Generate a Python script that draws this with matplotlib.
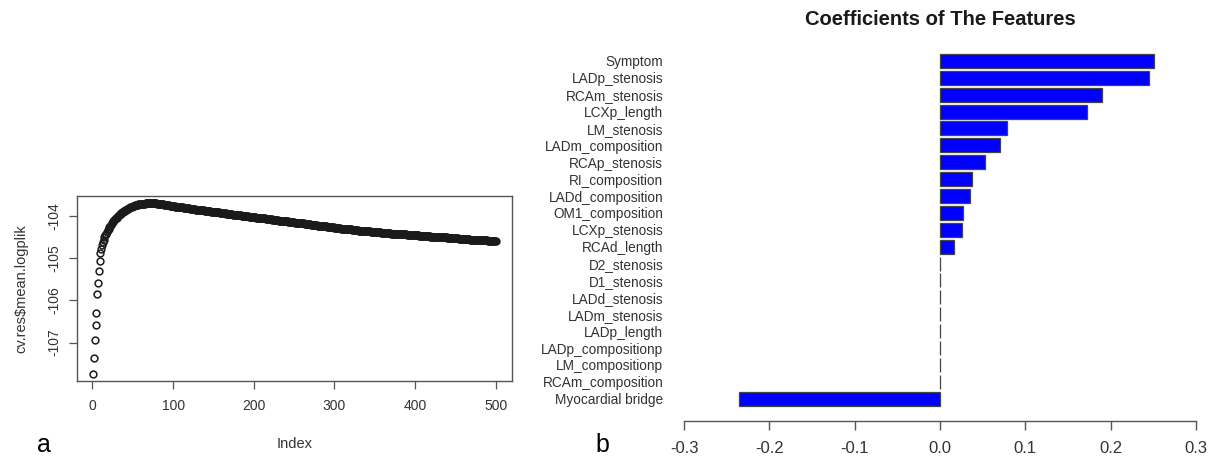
import numpy as np
import matplotlib
matplotlib.use("Agg")
import matplotlib.pyplot as plt

plt.rcParams["font.family"] = ["Liberation Sans", "DejaVu Sans"]

# panel a: cross-validated mean partial log-likelihood
LOGPLIK = np.array("""
-107.75 -107.36 -106.95 -106.59 -106.30 -105.85 -105.59 -105.31 -105.08 -104.88
-104.78 -104.70 -104.63 -104.57 -104.51 -104.46 -104.42 -104.38 -104.34 -104.30
-104.27 -104.24 -104.21 -104.18 -104.15 -104.13 -104.10 -104.08 -104.06 -104.04
-104.02 -104.00 -103.98 -103.96 -103.95 -103.93 -103.92 -103.90 -103.89 -103.88
-103.86 -103.85 -103.84 -103.83 -103.82 -103.81 -103.80 -103.79 -103.78 -103.77
-103.77 -103.76 -103.75 -103.75 -103.74 -103.74 -103.73 -103.73 -103.72 -103.72
-103.72 -103.71 -103.71 -103.71 -103.71 -103.70 -103.70 -103.70 -103.70 -103.70
-103.70 -103.69 -103.69 -103.69 -103.69 -103.70 -103.70 -103.70 -103.70 -103.71
-103.71 -103.71 -103.72 -103.72 -103.72 -103.73 -103.73 -103.73 -103.74 -103.74
-103.74 -103.75 -103.75 -103.75 -103.75 -103.76 -103.76 -103.76 -103.77 -103.77
-103.77 -103.77 -103.78 -103.78 -103.78 -103.78 -103.79 -103.79 -103.79 -103.80
-103.80 -103.80 -103.81 -103.81 -103.81 -103.81 -103.82 -103.82 -103.82 -103.82
-103.83 -103.83 -103.83 -103.83 -103.84 -103.84 -103.84 -103.85 -103.85 -103.85
-103.85 -103.86 -103.86 -103.86 -103.86 -103.87 -103.87 -103.87 -103.88 -103.88
-103.88 -103.88 -103.89 -103.89 -103.89 -103.89 -103.90 -103.90 -103.90 -103.90
-103.91 -103.91 -103.91 -103.91 -103.92 -103.92 -103.92 -103.93 -103.93 -103.93
-103.93 -103.94 -103.94 -103.94 -103.94 -103.95 -103.95 -103.95 -103.95 -103.96
-103.96 -103.96 -103.96 -103.97 -103.97 -103.97 -103.98 -103.98 -103.98 -103.98
-103.99 -103.99 -103.99 -103.99 -104.00 -104.00 -104.00 -104.00 -104.01 -104.01
-104.01 -104.01 -104.01 -104.02 -104.02 -104.02 -104.02 -104.02 -104.03 -104.03
-104.03 -104.03 -104.04 -104.04 -104.04 -104.04 -104.05 -104.05 -104.05 -104.05
-104.06 -104.06 -104.06 -104.06 -104.07 -104.07 -104.07 -104.07 -104.08 -104.08
-104.08 -104.08 -104.09 -104.09 -104.09 -104.09 -104.10 -104.10 -104.10 -104.10
-104.11 -104.11 -104.11 -104.11 -104.12 -104.12 -104.12 -104.12 -104.13 -104.13
-104.13 -104.13 -104.14 -104.14 -104.14 -104.14 -104.15 -104.15 -104.15 -104.15
-104.16 -104.16 -104.16 -104.16 -104.17 -104.17 -104.17 -104.17 -104.18 -104.18
-104.18 -104.18 -104.19 -104.19 -104.19 -104.19 -104.20 -104.20 -104.20 -104.20
-104.21 -104.21 -104.21 -104.21 -104.22 -104.22 -104.22 -104.22 -104.23 -104.23
-104.23 -104.23 -104.24 -104.24 -104.24 -104.24 -104.25 -104.25 -104.25 -104.25
-104.26 -104.26 -104.26 -104.26 -104.26 -104.27 -104.27 -104.27 -104.27 -104.28
-104.28 -104.28 -104.28 -104.29 -104.29 -104.29 -104.29 -104.30 -104.30 -104.30
-104.30 -104.30 -104.31 -104.31 -104.31 -104.31 -104.32 -104.32 -104.32 -104.32
-104.32 -104.33 -104.33 -104.33 -104.33 -104.34 -104.34 -104.34 -104.34 -104.35
-104.35 -104.35 -104.35 -104.35 -104.36 -104.36 -104.36 -104.36 -104.36 -104.37
-104.37 -104.37 -104.37 -104.37 -104.38 -104.38 -104.38 -104.38 -104.38 -104.38
-104.38 -104.39 -104.39 -104.39 -104.39 -104.39 -104.39 -104.40 -104.40 -104.40
-104.40 -104.40 -104.40 -104.41 -104.41 -104.41 -104.41 -104.41 -104.41 -104.42
-104.42 -104.42 -104.42 -104.42 -104.42 -104.43 -104.43 -104.43 -104.43 -104.43
-104.43 -104.43 -104.44 -104.44 -104.44 -104.44 -104.44 -104.44 -104.44 -104.45
-104.45 -104.45 -104.45 -104.45 -104.45 -104.45 -104.45 -104.46 -104.46 -104.46
-104.46 -104.46 -104.46 -104.46 -104.47 -104.47 -104.47 -104.47 -104.47 -104.47
-104.47 -104.48 -104.48 -104.48 -104.48 -104.48 -104.48 -104.48 -104.49 -104.49
-104.49 -104.49 -104.49 -104.49 -104.49 -104.50 -104.50 -104.50 -104.50 -104.50
-104.50 -104.50 -104.51 -104.51 -104.51 -104.51 -104.51 -104.51 -104.51 -104.52
-104.52 -104.52 -104.52 -104.52 -104.52 -104.52 -104.53 -104.53 -104.53 -104.53
-104.53 -104.53 -104.53 -104.54 -104.54 -104.54 -104.54 -104.54 -104.54 -104.54
-104.55 -104.55 -104.55 -104.55 -104.55 -104.55 -104.55 -104.56 -104.56 -104.56
-104.56 -104.56 -104.56 -104.56 -104.57 -104.57 -104.57 -104.57 -104.57 -104.57
-104.57 -104.58 -104.58 -104.58 -104.58 -104.58 -104.58 -104.58 -104.58 -104.59
-104.59 -104.59 -104.59 -104.59 -104.59 -104.59 -104.59 -104.59 -104.59 -104.59
""".split(), dtype=float)
INDEX = np.arange(1, len(LOGPLIK) + 1)

# panel b: coefficients, top to bottom
FEATURES = [
    "Symptom", "LADp_stenosis", "RCAm_stenosis", "LCXp_length", "LM_stenosis",
    "LADm_composition", "RCAp_stenosis", "RI_composition", "LADd_composition",
    "OM1_composition", "LCXp_stenosis", "RCAd_length", "D2_stenosis",
    "D1_stenosis", "LADd_stenosis", "LADm_stenosis", "LADp_length",
    "LADp_compositionp", "LM_compositionp", "RCAm_composition", "Myocardial bridge",
]
COEFS = [
    0.251, 0.245, 0.190, 0.172, 0.0785, 0.070, 0.053, 0.038, 0.0355,
    0.0266, 0.0258, 0.0168, 0.0, 0.0, 0.0, 0.0, 0.0, 0.0, 0.0, 0.0, -0.236,
]
X_TICKS = [-0.3, -0.2, -0.1, 0.0, 0.1, 0.2, 0.3]

AXIS_GREY = "#555555"

fig = plt.figure(figsize=(12.15, 4.61), dpi=100)

# ---- panel a
ax1 = fig.add_axes([0.0634, 0.1735, 0.358, 0.4013])
ax1.plot(INDEX, LOGPLIK, "o", mfc="none", mec="#1a1a1a", mew=1.1, ms=4.9)
ax1.set_xlim(-19, 520)
ax1.set_ylim(-107.91, -103.53)
ax1.set_xticks([0, 100, 200, 300, 400, 500])
ax1.set_yticks([-107, -106, -105, -104])
ax1.set_yticklabels(["-107", "-106", "-105", "-104"], rotation=90, va="center")
ax1.tick_params(length=6, width=0.9, color=AXIS_GREY, labelsize=10, labelcolor="#333333")
ax1.tick_params(axis="x", pad=7)
ax1.tick_params(axis="y", pad=5)
for sp in ax1.spines.values():
    sp.set_color(AXIS_GREY)
    sp.set_linewidth(1.0)
ax1.set_xlabel("Index", fontsize=10.5, color="#333333", labelpad=17)
ax1.set_ylabel("cv.res$mean.logplik", fontsize=10.5, color="#333333", labelpad=14)

# ---- panel b
ax2 = fig.add_axes([0.5561, 0.0874, 0.4352, 0.8026])
pos = np.arange(len(FEATURES))
ax2.barh(pos, COEFS, height=0.83, color="#0000ff", edgecolor="#444444", linewidth=0.9)
ax2.set_xlim(-0.31, 0.31)
ax2.set_ylim(21.3, -0.6)
ax2.set_yticks(pos)
ax2.set_yticklabels(FEATURES)
ax2.set_xticks(X_TICKS)
ax2.set_xticklabels(["%.1f" % t for t in X_TICKS])
for name in ["top", "right", "left"]:
    ax2.spines[name].set_visible(False)
ax2.spines["bottom"].set_bounds(-0.3, 0.3)
ax2.spines["bottom"].set_color(AXIS_GREY)
ax2.spines["bottom"].set_linewidth(1.0)
ax2.tick_params(axis="y", length=0, pad=9, labelsize=9.8, labelcolor="#333333")
ax2.tick_params(axis="x", length=6.5, width=1.0, color=AXIS_GREY, pad=8,
                labelsize=12, labelcolor="#333333")

fig.text(0.774, 0.9577, "Coefficients of The Features", ha="center", va="center",
         fontsize=14.5, fontweight="bold", color="#1a1a1a")

fig.text(44 / 1215, 1 - 445 / 461, "a", fontsize=18, ha="center", va="center")
fig.text(602 / 1215, 1 - 445 / 461, "b", fontsize=18, ha="center", va="center")

fig.savefig("out.png", dpi=100)
